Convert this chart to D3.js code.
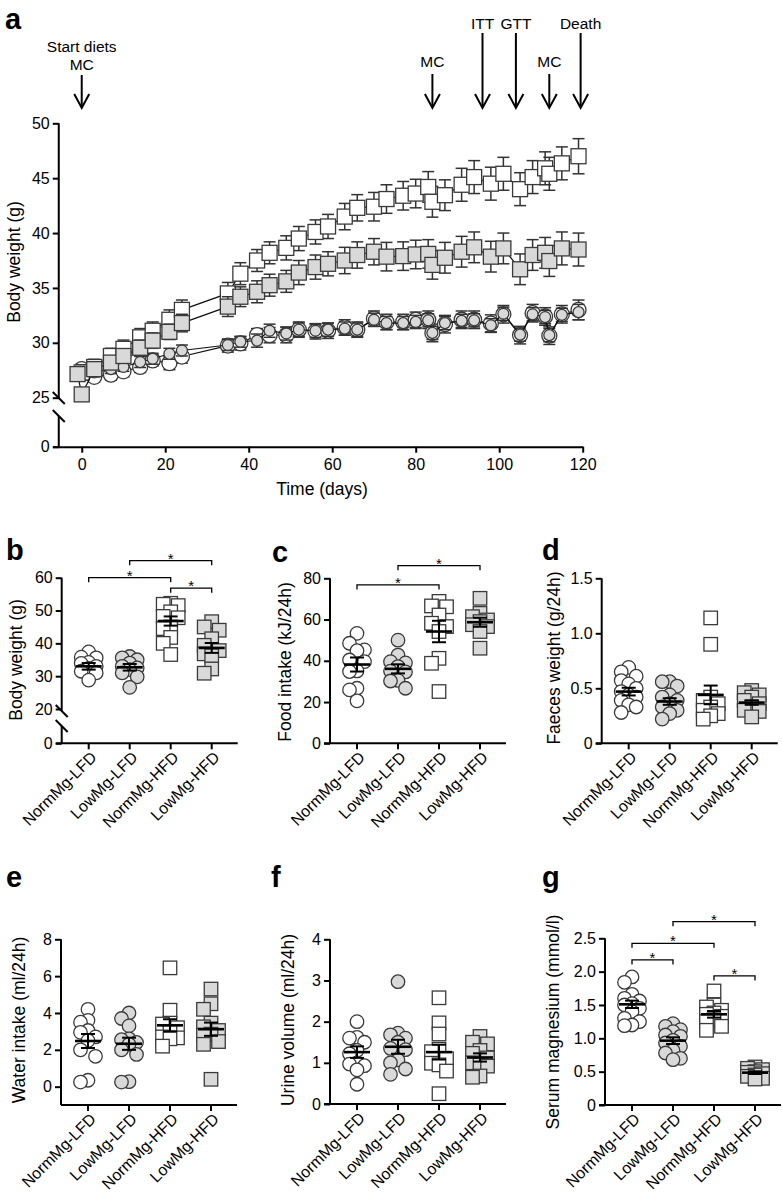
<!DOCTYPE html>
<html><head><meta charset="utf-8">
<script src="https://cdn.jsdelivr.net/npm/d3@7"></script>
<style>
body{margin:0;background:#fff}
svg{display:block}
text{font-family:"Liberation Sans",Arial,Helvetica,sans-serif;fill:#000}
</style>
</head><body>
<svg id="chart" width="782" height="1194"></svg>
<script>
// ---------------- DATA ----------------
const groups = ["NormMg-LFD","LowMg-LFD","NormMg-HFD","LowMg-HFD"];

// Panel a: body weight over time (g), mean ± SEM
const days = [0,3,7,10,14,17,21,24,35,38,42,45,49,52,56,59,63,66,70,73,77,80,83,84,87,91,94,98,101,105,108,111,112,115,119];
const daysLowHFD = [-1,0,3,7,10,14,17,21,24,35,38,42,45,49,52,56,59,63,66,70,73,77,80,83,84,87,91,94,98,101,105,108,111,112,115,119];
const bwNormLFD = [27.6,26.9,27.1,27.4,27.8,28.4,28.15,28.75,29.75,29.95,30.7,30.7,30.7,31.2,31.05,31.1,31.4,31.2,32.2,31.9,31.9,32.1,32.1,30.9,31.7,32.1,32.1,31.75,32.6,30.7,32.7,32.4,30.65,32.6,33.0];
const bwLowLFD  = [27.2,27.3,27.6,27.8,28.25,28.55,29.0,29.3,29.8,30.1,30.2,31.1,30.85,31.2,31.1,31.2,31.3,31.2,32.1,31.8,31.8,31.9,32.05,30.9,31.8,32.0,32.05,31.6,32.65,30.75,32.6,32.35,30.7,32.55,32.8];
const bwNormHFD = [27.3,27.8,28.8,29.45,30.5,31.1,32.1,33.0,34.5,36.3,37.5,38.2,38.65,39.5,40.1,40.6,41.5,42.3,42.4,43.1,43.4,43.6,44.2,42.85,43.45,44.4,45.1,44.5,45.4,44.0,45.1,45.9,45.4,46.35,47.0];
const bwLowHFD  = [27.15,25.3,27.6,28.2,28.8,29.55,30.2,31.0,31.8,33.3,34.2,34.65,35.25,35.6,36.4,36.9,37.2,37.5,38.0,38.3,37.85,37.9,38.05,38.1,37.1,37.75,38.3,38.7,37.85,38.6,36.7,38.0,38.2,37.45,38.6,38.5];
const semNormLFD = [0.5,0.5,0.5,0.5,0.5,0.5,0.6,0.6,0.6,0.6,0.6,0.7,0.7,0.7,0.7,0.7,0.7,0.7,0.7,0.7,0.7,0.7,0.8,0.8,0.8,0.8,0.8,0.8,0.8,0.8,0.8,0.8,0.8,0.8,0.9];
const semLowLFD  = [0.4,0.4,0.4,0.4,0.5,0.5,0.5,0.5,0.5,0.5,0.6,0.6,0.6,0.6,0.6,0.6,0.6,0.6,0.6,0.6,0.6,0.6,0.6,0.6,0.6,0.6,0.6,0.6,0.6,0.6,0.6,0.6,0.6,0.6,0.7];
const semNormHFD = [0.7,0.7,0.7,0.8,0.8,0.8,0.9,0.9,1.0,1.0,1.0,1.0,1.1,1.1,1.1,1.1,1.2,1.2,1.3,1.3,1.3,1.3,1.4,1.4,1.4,1.5,1.5,1.5,1.5,1.5,1.5,1.5,1.5,1.5,1.6];
const semLowHFD  = [0.6,0.6,0.6,0.6,0.6,0.7,0.7,0.7,0.8,0.9,0.9,1.0,1.0,1.0,1.1,1.1,1.1,1.2,1.2,1.2,1.3,1.3,1.3,1.3,1.3,1.4,1.4,1.4,1.4,1.4,1.4,1.4,1.4,1.4,1.5,1.5];
const eventDays   = [0, 84, 96, 104, 112, 119.5];
const eventLabels = [["Start diets","MC"],["MC"],["ITT"],["GTT"],["MC"],["Death"]];
const timeTicks = [0,20,40,60,80,100,120];
const bwTicksUpper = [25,30,35,40,45,50];

// Panel b: body weight (g)
const bodyWeight = [
  [37.4,35.8,35.6,34.2,33.9,33.0,32.4,31.5,31.0,28.8],
  [36.0,35.6,35.0,34.0,33.0,32.5,32.0,31.0,29.8,26.6],
  [52.2,51.9,51.5,49.6,48.2,47.8,45.0,44.5,41.8,40.0,36.6],
  [46.6,45.0,44.0,41.4,39.4,37.8,36.8,36.2,32.2,30.9]];
const bodyWeightMean = [33.0,32.7,46.8,38.6];
const bodyWeightSem  = [1.0,1.0,1.4,1.5];
// Panel c: food intake (kJ/24h)
const foodIntake = [
  [53.3,48.5,45.3,44.9,40.4,39.6,35.1,34.8,26.7,25.9,20.6],
  [50.0,42.8,39.6,39.0,37.2,35.0,34.6,30.5,30.2,26.7],
  [68.8,66.6,66.2,62.2,58.2,56.6,54.2,41.2,38.8,25.1],
  [70.3,63.0,61.4,59.8,59.0,57.5,56.6,54.2,46.1]];
const foodIntakeMean = [38.2,36.1,54.2,58.7];
const foodIntakeSem  = [3.4,2.2,5.2,2.2];
// Panel d: faeces weight (g/24h)
const faeces = [
  [0.69,0.65,0.61,0.57,0.54,0.50,0.47,0.44,0.42,0.39,0.35,0.33,0.28],
  [0.56,0.56,0.52,0.44,0.42,0.39,0.36,0.33,0.30,0.27,0.22],
  [1.14,0.90,0.42,0.39,0.36,0.33,0.30,0.27,0.25,0.22],
  [0.48,0.46,0.44,0.42,0.39,0.36,0.33,0.30,0.29,0.24]];
const faecesMean = [0.47,0.38,0.44,0.37];
const faecesSem  = [0.035,0.03,0.085,0.02];
// Panel e: water intake (ml/24h)
const water = [
  [4.2,3.6,3.5,3.05,2.95,2.7,2.5,2.0,1.65,0.35,0.25],
  [4.0,3.7,3.3,2.6,2.55,2.4,2.3,2.0,1.75,0.27,0.25],
  [6.45,4.15,3.45,3.4,3.2,2.95,2.7,2.65,2.6,2.2],
  [5.3,4.5,4.2,3.45,3.25,3.05,2.85,2.8,2.45,2.3,0.4]];
const waterMean = [2.48,2.33,3.33,3.12];
const waterSem  = [0.38,0.33,0.33,0.36];
// Panel f: urine volume (ml/24h)
const urine = [
  [2.0,1.62,1.6,1.5,1.3,1.22,1.0,0.97,0.93,0.83,0.48],
  [2.97,1.72,1.68,1.6,1.5,1.35,1.32,1.07,1.0,0.85,0.72],
  [2.58,1.97,1.7,1.33,1.27,1.1,0.99,0.95,0.8,0.25],
  [1.64,1.5,1.46,1.3,1.23,1.12,1.0,0.95,0.92,0.68,0.65]];
const urineMean = [1.26,1.39,1.26,1.13];
const urineSem  = [0.14,0.17,0.18,0.1];
// Panel g: serum magnesium (mmol/l)
const serumMg = [
  [1.92,1.84,1.66,1.6,1.56,1.52,1.5,1.45,1.4,1.3,1.25,1.2,1.19],
  [1.22,1.18,1.13,1.1,1.05,1.03,0.97,0.93,0.88,0.82,0.78,0.7,0.68],
  [1.71,1.5,1.47,1.42,1.38,1.36,1.33,1.28,1.25,1.18,1.12],
  [0.57,0.55,0.53,0.5,0.49,0.47,0.45,0.43,0.4,0.39]];
const serumMgMean = [1.51,0.965,1.36,0.485];
const serumMgSem  = [0.055,0.05,0.05,0.02];

// ---------------- DRAWING ----------------
const GRAY = "#d9d9d9", OUT = "#3a3a3a";
const TICK_FS = 16, CAT_FS = 16, TITLE_FS = 17.5;
const svg = d3.select("#chart");
const groupFill = ["#fff", GRAY, "#fff", GRAY];
const groupShape = ["circle","circle","square","square"];

function marker(g, shape, fill, x, y, size) {
  if (shape === "circle") {
    g.append("circle").attr("cx", x).attr("cy", y).attr("r", size/2)
      .attr("fill", fill).attr("stroke", OUT).attr("stroke-width", 1.3);
  } else {
    g.append("rect").attr("x", x-size/2).attr("y", y-size/2).attr("width", size).attr("height", size)
      .attr("fill", fill).attr("stroke", OUT).attr("stroke-width", 1.3);
  }
}
function styleAxis(sel, fs) {
  sel.selectAll("path.domain").attr("stroke","#000").attr("stroke-width",2);
  sel.selectAll(".tick line").attr("stroke","#000").attr("stroke-width",2);
  sel.selectAll(".tick text").attr("font-size", fs).attr("fill","#000")
     .attr("font-family","Liberation Sans, Arial, sans-serif");
}
function letter(t, x, y) {
  svg.append("text").attr("x", x).attr("y", y).text(t)
    .attr("font-size", 29).attr("font-weight", "bold");
}
function yTitle(t, x, y, fs) {
  svg.append("text").attr("transform", `translate(${x},${y}) rotate(-90)`)
    .attr("text-anchor","middle").attr("dy","0.35em").attr("font-size", fs).text(t);
}
function breakMarks(x, yA, yB) {
  [yA, yB].forEach(yy => {
    svg.append("line").attr("x1", x-6).attr("y1", yy-6).attr("x2", x+6).attr("y2", yy+6)
      .attr("stroke","#000").attr("stroke-width",2);
  });
}
const fmtInt = d3.format("d");

// ---- Panel a ----
(function(){
  const x = d3.scaleLinear().domain([-7,120]).range([52.5,582.7]);
  const y = d3.scaleLinear().domain([25,50]).range([397.7,123.3]);
  const yLow = d3.scaleLinear().domain([0,1]).range([446.7,416]);
  const x0 = x(-5.5);
  const gA = svg.append("g");
  const ay = gA.append("g").attr("transform", `translate(${x0},0)`)
    .call(d3.axisLeft(y).tickValues(bwTicksUpper).tickSize(6).tickSizeOuter(0).tickFormat(fmtInt));
  ay.select("path.domain").remove();
  styleAxis(ay, TICK_FS);
  gA.append("line").attr("x1", x0).attr("x2", x0).attr("y1", y(50)).attr("y2", 398)
    .attr("stroke","#000").attr("stroke-width",2);
  const ayl = gA.append("g").attr("transform", `translate(${x0},0)`)
    .call(d3.axisLeft(yLow).tickValues([0]).tickSize(6).tickSizeOuter(0).tickFormat(fmtInt));
  ayl.select("path.domain").remove();
  styleAxis(ayl, TICK_FS);
  gA.append("line").attr("x1", x0).attr("x2", x0).attr("y1", 416).attr("y2", 446.7)
    .attr("stroke","#000").attr("stroke-width",2);
  breakMarks(x0, 398, 416);
  const axx = gA.append("g").attr("transform", "translate(0,446.7)")
    .call(d3.axisBottom(x).tickValues(timeTicks).tickSize(6).tickSizeOuter(0).tickFormat(fmtInt));
  styleAxis(axx, TICK_FS);
  axx.selectAll(".tick text").attr("dy","0.9em");
  svg.append("text").attr("x", 322).attr("y", 495).attr("text-anchor","middle")
    .attr("font-size", TITLE_FS).text("Time (days)");
  yTitle("Body weight (g)", 14, 262, TITLE_FS);
  letter("a", 5, 29);

  eventDays.forEach((d, i) => {
    const lab = eventLabels[i];
    const ex = x(d);
    const tall = (lab[0] === "ITT" || lab[0] === "GTT" || lab[0] === "Death");
    let topY;
    if (lab.length === 2) {
      svg.append("text").attr("x", ex).attr("y", 52).attr("text-anchor","middle").attr("font-size",15.5).text(lab[0]);
      svg.append("text").attr("x", ex).attr("y", 70).attr("text-anchor","middle").attr("font-size",15.5).text(lab[1]);
      topY = 75;
    } else if (tall) {
      svg.append("text").attr("x", ex).attr("y", 29).attr("text-anchor","middle").attr("font-size",15.5).text(lab[0]);
      topY = 33;
    } else {
      svg.append("text").attr("x", ex).attr("y", 67).attr("text-anchor","middle").attr("font-size",15.5).text(lab[0]);
      topY = 74;
    }
    svg.append("line").attr("x1", ex).attr("x2", ex).attr("y1", topY).attr("y2", 107)
      .attr("stroke","#000").attr("stroke-width",2);
    svg.append("path").attr("d", `M${ex-7.5},${94}L${ex},${108}L${ex+7.5},${94}`)
      .attr("fill","none").attr("stroke","#000").attr("stroke-width",2);
  });

  const series = [
    {d: days, v: bwNormLFD, s: semNormLFD, shape:"circle", fill:"#fff", size:15},
    {d: days, v: bwLowLFD, s: semLowLFD, shape:"circle", fill:GRAY, size:11},
    {d: days, v: bwNormHFD, s: semNormHFD, shape:"square", fill:"#fff", size:15},
    {d: daysLowHFD, v: bwLowHFD, s: semLowHFD, shape:"square", fill:GRAY, size:15}
  ];
  series.forEach(se => {
    const g = svg.append("g");
    se.d.forEach((dd, i) => {
      const cx = x(dd), yt = y(se.v[i] + se.s[i]), yb = y(se.v[i] - se.s[i]);
      g.append("line").attr("x1",cx).attr("x2",cx).attr("y1",yt).attr("y2",yb).attr("stroke","#333").attr("stroke-width",1.5);
      g.append("line").attr("x1",cx-6).attr("x2",cx+6).attr("y1",yt).attr("y2",yt).attr("stroke","#333").attr("stroke-width",1.5);
      g.append("line").attr("x1",cx-6).attr("x2",cx+6).attr("y1",yb).attr("y2",yb).attr("stroke","#333").attr("stroke-width",1.5);
    });
    const line = d3.line().x((dd) => x(dd)).y((dd, i) => y(se.v[i]));
    g.append("path").attr("d", line(se.d)).attr("fill","none").attr("stroke","#111").attr("stroke-width",1.2);
    se.d.forEach((dd, i) => marker(g, se.shape, se.fill, x(dd), y(se.v[i]), se.size));
  });
})();

// ---- dot panels ----
function swarm(vals, ys, step, minDist) {
  const idx = vals.map((v,i)=>i).sort((a,b)=>vals[b]-vals[a]);
  const placed = [], offs = new Array(vals.length).fill(0);
  const cands = [0,-step,step];
  idx.forEach(i => {
    const yy = ys(vals[i]);
    let best = 0, bestD = -1;
    for (const xx of cands) {
      const dmin = placed.length ? d3.min(placed, p => Math.hypot(p.x-xx, p.y-yy)) : Infinity;
      if (dmin >= minDist) { best = xx; bestD = Infinity; break; }
      if (dmin > bestD) { bestD = dmin; best = xx; }
    }
    offs[i] = best; placed.push({x:best, y:yy});
  });
  return offs;
}

function dotPanel(cfg) {
  const g = svg.append("g");
  const x0 = cfg.x0;
  const xc = d3.scalePoint().domain(groups).range([x0+27, x0+150]);
  const y = d3.scaleLinear().domain(cfg.domain).range(cfg.range);
  const yAxisBottom = cfg.axisY;
  const ay = g.append("g").attr("transform", `translate(${x0},0)`)
    .call(d3.axisLeft(y).tickValues(cfg.ticks).tickSize(6).tickSizeOuter(0).tickFormat(cfg.fmt));
  ay.select("path.domain").remove();
  styleAxis(ay, TICK_FS);
  if (cfg.brk) {
    const yLow = d3.scaleLinear().domain([0,1]).range([yAxisBottom, yAxisBottom-20]);
    const ayl = g.append("g").attr("transform", `translate(${x0},0)`)
      .call(d3.axisLeft(yLow).tickValues([0]).tickSize(6).tickSizeOuter(0).tickFormat(fmtInt));
    ayl.select("path.domain").remove();
    styleAxis(ayl, TICK_FS);
    g.append("line").attr("x1",x0).attr("x2",x0).attr("y1",y(cfg.domain[1])).attr("y2",cfg.brk[0]).attr("stroke","#000").attr("stroke-width",2);
    g.append("line").attr("x1",x0).attr("x2",x0).attr("y1",cfg.brk[1]).attr("y2",yAxisBottom).attr("stroke","#000").attr("stroke-width",2);
    breakMarks(x0, cfg.brk[0], cfg.brk[1]);
  } else {
    g.append("line").attr("x1",x0).attr("x2",x0).attr("y1",y(cfg.domain[1])).attr("y2",yAxisBottom).attr("stroke","#000").attr("stroke-width",2);
  }
  const xStart = cfg.xLeftExt ? x0-6 : x0;
  g.append("line").attr("x1",xStart).attr("x2",x0+176).attr("y1",yAxisBottom).attr("y2",yAxisBottom).attr("stroke","#000").attr("stroke-width",2);
  groups.forEach(gr => {
    g.append("line").attr("x1",xc(gr)).attr("x2",xc(gr)).attr("y1",yAxisBottom).attr("y2",yAxisBottom+6).attr("stroke","#000").attr("stroke-width",2);
    g.append("text").attr("transform", `translate(${xc(gr)+5},${yAxisBottom+11}) rotate(-45)`)
      .attr("text-anchor","end").attr("dy","0.35em").attr("font-size",CAT_FS).text(gr);
  });
  cfg.data.forEach((vals, gi) => {
    const offs = swarm(vals, y, 7.5, 10);
    vals.forEach((v, i) => marker(g, groupShape[gi], groupFill[gi], xc(groups[gi]) + offs[i], y(v), 13.5));
  });
  cfg.data.forEach((vals, gi) => {
    const cx = xc(groups[gi]), m = cfg.mean[gi], s = cfg.sem[gi];
    g.append("line").attr("x1",cx).attr("x2",cx).attr("y1",y(m+s)).attr("y2",y(m-s)).attr("stroke","#000").attr("stroke-width",2);
    [m+s, m-s].forEach(v => g.append("line").attr("x1",cx-7).attr("x2",cx+7).attr("y1",y(v)).attr("y2",y(v)).attr("stroke","#000").attr("stroke-width",2));
    g.append("line").attr("x1",cx-13).attr("x2",cx+13).attr("y1",y(m)).attr("y2",y(m)).attr("stroke","#000").attr("stroke-width",2.6);
  });
  (cfg.brackets || []).forEach(b => {
    const x1 = xc(groups[b[0]]), x2 = xc(groups[b[1]]), yy = y(b[2]);
    g.append("path").attr("d", `M${x1},${yy+4.5}V${yy}H${x2}V${yy+4.5}`)
      .attr("fill","none").attr("stroke","#000").attr("stroke-width",1.3);
    g.append("text").attr("x",(x1+x2)/2).attr("y",yy+3).attr("text-anchor","middle").attr("font-size",15).text("*");
  });
  yTitle(cfg.title, cfg.titleX, cfg.titleY, TITLE_FS);
  letter(cfg.letter, cfg.lx, cfg.ly);
}

const f1 = v => v === 0 ? "0" : d3.format(".1f")(v);

dotPanel({x0:61.7, domain:[20,60], range:[709,577.7], axisY:743.3, ticks:[20,30,40,50,60], fmt:fmtInt,
  brk:[711,726], xLeftExt:true, data:bodyWeight, mean:bodyWeightMean, sem:bodyWeightSem,
  brackets:[[0,2,60],[1,3,65.2],[2,3,56.8]], title:"Body weight (g)", titleX:16, titleY:660, letter:"b", lx:6, ly:560});
dotPanel({x0:330, domain:[0,80], range:[743.3,578.3], axisY:743.3, ticks:[0,20,40,60,80], fmt:fmtInt,
  xLeftExt:true, data:foodIntake, mean:foodIntakeMean, sem:foodIntakeSem,
  brackets:[[0,2,76.8],[1,3,86.1]], title:"Food intake (kJ/24h)", titleX:285, titleY:662, letter:"c", lx:272, ly:562});
dotPanel({x0:601.7, domain:[0,1.5], range:[743.3,578.3], axisY:743.3, ticks:[0,0.5,1,1.5], fmt:f1,
  xLeftExt:true, data:faeces, mean:faecesMean, sem:faecesSem,
  title:"Faeces weight (g/24h)", titleX:554, titleY:658, letter:"d", lx:542, ly:560});
dotPanel({x0:61, domain:[-1,8], range:[1105.1,939.3], axisY:1105.1, ticks:[0,2,4,6,8], fmt:fmtInt,
  xLeftExt:false, data:water, mean:waterMean, sem:waterSem,
  title:"Water intake (ml/24h)", titleX:19, titleY:1020, letter:"e", lx:6, ly:887});
dotPanel({x0:330, domain:[0,4], range:[1104,939.3], axisY:1104, ticks:[0,1,2,3,4], fmt:fmtInt,
  xLeftExt:true, data:urine, mean:urineMean, sem:urineSem,
  title:"Urine volume (ml/24h)", titleX:288, titleY:1020, letter:"f", lx:271, ly:887});
dotPanel({x0:605, domain:[0,2.5], range:[1105,938.3], axisY:1105, ticks:[0,0.5,1,1.5,2,2.5], fmt:f1,
  xLeftExt:true, data:serumMg, mean:serumMgMean, sem:serumMgSem,
  brackets:[[0,1,2.175],[0,2,2.425],[1,3,2.75],[2,3,1.935]],
  title:"Serum magnesium (mmol/l)", titleX:553, titleY:1022, letter:"g", lx:542, ly:887});
</script>
</body></html>
